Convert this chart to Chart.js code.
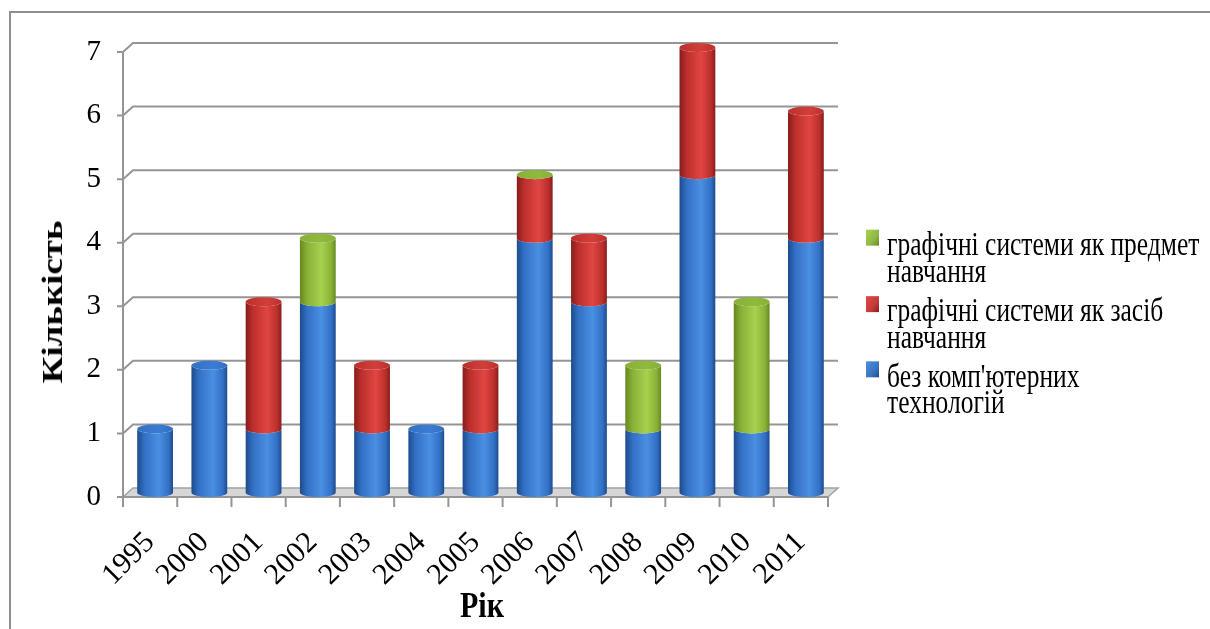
<!DOCTYPE html>
<html>
<head>
<meta charset="utf-8">
<script src="https://cdn.jsdelivr.net/npm/chart.js@4.4.1/dist/chart.umd.min.js"></script>
<style>
    html, body { margin: 0; padding: 0; background: #fff; overflow: hidden; }
    #wrap { position: relative; width: 1210px; height: 629px; }
    #frame { position: absolute; left: 9px; top: 11px; width: 1300px; height: 700px; border-left: 2px solid #8f8f8f; border-top: 2px solid #8f8f8f; }
    canvas { position: absolute; left: 0; top: 0; }
    .title { position: absolute; font-family: "Liberation Serif", "Times New Roman", serif; font-weight: bold; font-size: 30px; line-height: 30px; white-space: nowrap; color: #000; }
    #yTitle { left: 52px; top: 302px; transform: translate(-50%, -50%) rotate(-90deg) scaleX(1.23); }
    #xTitle { left: 482px; top: 605px; transform: translate(-50%, -50%) scaleY(1.2); }
    #legend { position: absolute; left: 866px; top: 231px; transform-origin: 0 0; transform: scaleY(1.33); font-family: "Liberation Serif", "Times New Roman", serif; font-size: 25.5px; line-height: 20.3px; color: #000; }
    .item { position: relative; padding-left: 21px; margin-bottom: 9px; }
    .sw { position: absolute; left: 0; top: -1px; width: 13px; height: 12px; }
</style>
</head>
<body>
<div id="wrap">
    <div id="frame"></div>
    <canvas id="grafico" width="1210" height="629"></canvas>
    <div class="title" id="yTitle">Кількість</div>
    <div class="title" id="xTitle">Рік</div>
    <div id="legend"></div>
</div>
<script>
    const roky = ['1995', '2000', '2001', '2002', '2003', '2004', '2005', '2006', '2007', '2008', '2009', '2010', '2011'];
    const bezKompTekhnologii = [1, 2, 1, 3, 1, 1, 1, 4, 3, 1, 5, 1, 4];
    const zasibNavchannia = [null, null, 2, null, 1, null, 1, 1, 1, null, 2, null, 2];
    const predmetNavchannia = [null, null, null, 1, null, null, null, 0, null, 1, null, 2, null];
    const nazvySerii = ["без комп'ютерних технологій", 'графічні системи як засіб навчання', 'графічні системи як предмет навчання'];
    const legendaRiadky = [
        ['графічні системи як предмет', 'навчання'],
        ['графічні системи як засіб', 'навчання'],
        ["без комп'ютерних", 'технологій']
    ];

    const kolory = [
        { dark: '#1d4b8c', mid: '#3270c4', light: '#4a8fe2', cap: '#3b7cd3', legend: '#3a74c0' },
        { dark: '#861d1b', mid: '#bb2f2c', light: '#e04642', cap: '#d23f3b', legend: '#c23c3a' },
        { dark: '#67881f', mid: '#88b037', light: '#a6d24f', cap: '#8fba3c', legend: '#8fb848' }
    ];

    const fonte = '"Liberation Serif", "Times New Roman", serif';
    const dx = 10, dy = -9;

    // legenda em html (texto quebrado em duas linhas)
    const legenda = document.getElementById('legend');
    legendaRiadky.forEach((linhas, i) => {
        const c = kolory[2 - i];
        legenda.innerHTML += `<div class="item"><span class="sw" style="background:linear-gradient(135deg, ${c.light}, ${c.legend} 60%, ${c.dark})"></span>${linhas.join('<br>')}</div>`;
    });

    const fundo3d = {
        id: 'fundo3d',
        beforeDatasetsDraw(chart) {
            const ctx = chart.ctx;
            const { left, right, bottom } = chart.chartArea;
            const y = chart.scales.y;
            ctx.save();
            // chao
            ctx.beginPath();
            ctx.moveTo(left, bottom);
            ctx.lineTo(right, bottom);
            ctx.lineTo(right + dx, bottom + dy);
            ctx.lineTo(left + dx, bottom + dy);
            ctx.closePath();
            ctx.fillStyle = '#d6d6d6';
            ctx.fill();
            ctx.strokeStyle = '#a3a3a3';
            ctx.lineWidth = 1.5;
            ctx.stroke();
            // linhas de grade
            ctx.strokeStyle = '#959595';
            ctx.lineWidth = 2;
            y.ticks.forEach(t => {
                const py = y.getPixelForValue(t.value);
                ctx.beginPath();
                ctx.moveTo(left - 6, py);
                ctx.lineTo(left, py);
                if (t.value > 0) {
                    ctx.lineTo(left + dx, py + dy);
                    ctx.lineTo(right + dx, py + dy);
                }
                ctx.stroke();
            });
            // eixo y
            ctx.beginPath();
            ctx.moveTo(left, y.getPixelForValue(7));
            ctx.lineTo(left, bottom);
            ctx.stroke();
            // eixo x e marcas
            const passo = (right - left) / roky.length;
            ctx.beginPath();
            ctx.moveTo(left, bottom);
            ctx.lineTo(right, bottom);
            for (let i = 0; i <= roky.length; i++) {
                ctx.moveTo(left + i * passo, bottom);
                ctx.lineTo(left + i * passo, bottom + 10);
            }
            ctx.stroke();
            ctx.restore();
        },
        afterDatasetsDraw(chart) {
            const ctx = chart.ctx;
            const ry = 4.5;
            ctx.save();
            roky.forEach((ano, i) => {
                let topo = -1;
                chart.data.datasets.forEach((ds, d) => { if (ds.data[i] != null) topo = d; });
                chart.data.datasets.forEach((ds, d) => {
                    const v = ds.data[i];
                    if (v == null) return;
                    const el = chart.getDatasetMeta(d).data[i];
                    const cx = el.x + dx / 2;
                    const rx = el.width / 2;
                    const yTop = el.y + dy / 2;
                    const yBase = el.base + dy / 2;
                    const c = kolory[d];
                    if (v > 0) {
                        const g = ctx.createLinearGradient(cx - rx, 0, cx + rx, 0);
                        g.addColorStop(0, c.dark);
                        g.addColorStop(0.2, c.mid);
                        g.addColorStop(0.6, c.light);
                        g.addColorStop(0.88, c.mid);
                        g.addColorStop(1, c.dark);
                        ctx.beginPath();
                        ctx.moveTo(cx - rx, yTop);
                        ctx.ellipse(cx, yTop, rx, ry, 0, Math.PI, 0, true);
                        ctx.lineTo(cx + rx, yBase);
                        ctx.ellipse(cx, yBase, rx, ry, 0, 0, Math.PI, false);
                        ctx.closePath();
                        ctx.fillStyle = g;
                        ctx.fill();
                    }
                    if (d === topo) {
                        const g2 = ctx.createLinearGradient(cx - rx, 0, cx + rx, 0);
                        g2.addColorStop(0, c.mid);
                        g2.addColorStop(0.6, c.cap);
                        g2.addColorStop(1, c.mid);
                        ctx.beginPath();
                        ctx.ellipse(cx, yTop, rx, ry, 0, 0, Math.PI * 2);
                        ctx.fillStyle = g2;
                        ctx.fill();
                    }
                });
            });
            ctx.restore();
        }
    };

    const grafico = document.getElementById('grafico');

    new Chart(grafico, {
        type: 'bar',
        data: {
            labels: roky,
            datasets: [
                { label: nazvySerii[0], data: bezKompTekhnologii },
                { label: nazvySerii[1], data: zasibNavchannia },
                { label: nazvySerii[2], data: predmetNavchannia }
            ].map(ds => Object.assign(ds, { backgroundColor: 'rgba(0,0,0,0)', borderWidth: 0, barPercentage: 0.66, categoryPercentage: 1 }))
        },
        options: {
            responsive: false,
            animation: false,
            layout: { padding: { left: 0, right: 382, top: 52, bottom: 0 } },
            plugins: { legend: { display: false }, tooltip: { enabled: false } },
            scales: {
                x: {
                    stacked: true,
                    grid: { display: false, drawTicks: false },
                    border: { display: false },
                    ticks: { color: '#000', font: { family: fonte, size: 30 }, minRotation: 45, maxRotation: 45, autoSkip: false, padding: 28 },
                    afterFit: s => { s.height = 132; }
                },
                y: {
                    stacked: true,
                    min: 0,
                    max: 7,
                    grid: { display: false, drawTicks: false },
                    border: { display: false },
                    ticks: { color: '#000', font: { family: fonte, size: 29 }, stepSize: 1, padding: 22 },
                    afterFit: s => { s.width = 123; }
                }
            }
        },
        plugins: [fundo3d]
    });
</script>
</body>
</html>
